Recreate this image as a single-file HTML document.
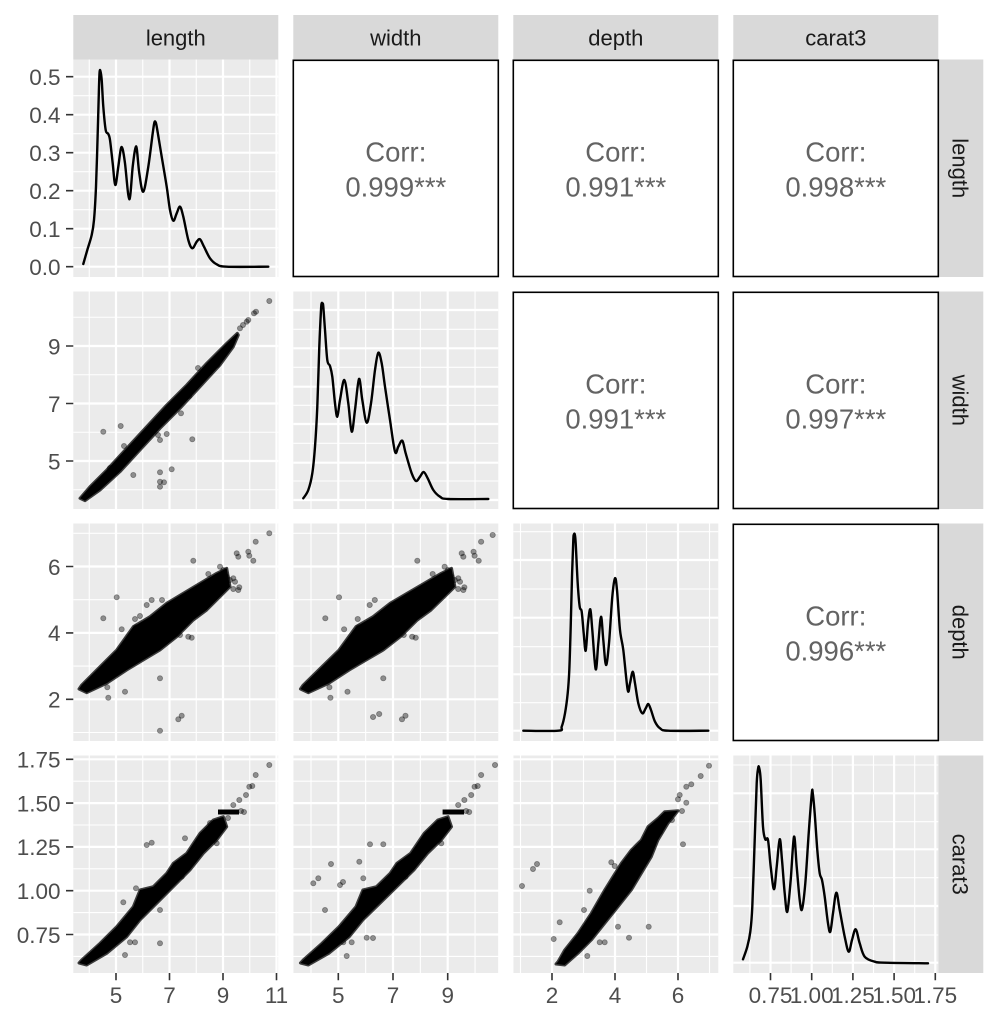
<!DOCTYPE html>
<html><head><meta charset="utf-8"><style>
html,body{margin:0;padding:0;background:#fff;}
svg{display:block;font-family:"Liberation Sans",Arial,sans-serif;}
</style></head><body>
<svg id="main" width="998" height="1023" viewBox="0 0 998 1023" xmlns="http://www.w3.org/2000/svg">
<defs>
<clipPath id="c11"><rect x="73.3" y="59.5" width="205" height="217.5"/></clipPath>
<clipPath id="c21"><rect x="73.3" y="291.5" width="205" height="217.5"/></clipPath>
<clipPath id="c22"><rect x="293.3" y="291.5" width="205" height="217.5"/></clipPath>
<clipPath id="c31"><rect x="73.3" y="523.5" width="205" height="217.5"/></clipPath>
<clipPath id="c32"><rect x="293.3" y="523.5" width="205" height="217.5"/></clipPath>
<clipPath id="c33"><rect x="513.3" y="523.5" width="205" height="217.5"/></clipPath>
<clipPath id="c41"><rect x="73.3" y="755.5" width="205" height="217.5"/></clipPath>
<clipPath id="c42"><rect x="293.3" y="755.5" width="205" height="217.5"/></clipPath>
<clipPath id="c43"><rect x="513.3" y="755.5" width="205" height="217.5"/></clipPath>
<clipPath id="c44"><rect x="733.3" y="755.5" width="205" height="217.5"/></clipPath>
</defs>
<rect width="998" height="1023" fill="#fff"/>

<!-- strips -->
<g fill="#D9D9D9">
<rect x="73.3" y="15" width="205" height="44.5"/>
<rect x="293.3" y="15" width="205" height="44.5"/>
<rect x="513.3" y="15" width="205" height="44.5"/>
<rect x="733.3" y="15" width="205" height="44.5"/>
<rect x="938.3" y="59.5" width="45" height="217.5"/>
<rect x="938.3" y="291.5" width="45" height="217.5"/>
<rect x="938.3" y="523.5" width="45" height="217.5"/>
<rect x="938.3" y="755.5" width="45" height="217.5"/>
</g>
<g font-size="22" fill="#1A1A1A" text-anchor="middle">
<text x="175.8" y="45.5">length</text>
<text x="395.8" y="45.5">width</text>
<text x="615.8" y="45.5">depth</text>
<text x="835.8" y="45.5">carat3</text>
<text transform="translate(952.5,168.25) rotate(90)">length</text>
<text transform="translate(952.5,400.25) rotate(90)">width</text>
<text transform="translate(952.5,632.25) rotate(90)">depth</text>
<text transform="translate(952.5,864.25) rotate(90)">carat3</text>
</g>

<!-- panel backgrounds -->
<g fill="#EBEBEB">
<rect x="73.3" y="59.5" width="205" height="217.5"/>
<rect x="73.3" y="291.5" width="205" height="217.5"/>
<rect x="293.3" y="291.5" width="205" height="217.5"/>
<rect x="73.3" y="523.5" width="205" height="217.5"/>
<rect x="293.3" y="523.5" width="205" height="217.5"/>
<rect x="513.3" y="523.5" width="205" height="217.5"/>
<rect x="73.3" y="755.5" width="205" height="217.5"/>
<rect x="293.3" y="755.5" width="205" height="217.5"/>
<rect x="513.3" y="755.5" width="205" height="217.5"/>
<rect x="733.3" y="755.5" width="205" height="217.5"/>
</g>

<!-- correlation panels -->
<g fill="#fff" stroke="#000" stroke-width="1.6">
<rect x="293.3" y="60.3" width="205" height="216.2"/>
<rect x="513.3" y="60.3" width="205" height="216.2"/>
<rect x="733.3" y="60.3" width="205" height="216.2"/>
<rect x="513.3" y="292.3" width="205" height="216.2"/>
<rect x="733.3" y="292.3" width="205" height="216.2"/>
<rect x="733.3" y="524.3" width="205" height="216.2"/>
</g>
<g font-size="27.5" fill="#636363" text-anchor="middle">
<text x="395.8" y="161.7">Corr:</text><text x="395.8" y="196.7">0.999***</text>
<text x="615.8" y="161.7">Corr:</text><text x="615.8" y="196.7">0.991***</text>
<text x="835.8" y="161.7">Corr:</text><text x="835.8" y="196.7">0.998***</text>
<text x="615.8" y="393.7">Corr:</text><text x="615.8" y="428.7">0.991***</text>
<text x="835.8" y="393.7">Corr:</text><text x="835.8" y="428.7">0.997***</text>
<text x="835.8" y="625.7">Corr:</text><text x="835.8" y="660.7">0.996***</text>
</g>

<!-- GRID LINES -->
<g stroke="#fff" fill="none">
<g stroke-width="1.1">
<path d="M89.25 59.5V277M142.75 59.5V277M196.25 59.5V277M249.75 59.5V277"/>
<path d="M89.25 291.5V509M142.75 291.5V509M196.25 291.5V509M249.75 291.5V509"/>
<path d="M89.25 523.5V741M142.75 523.5V741M196.25 523.5V741M249.75 523.5V741"/>
<path d="M89.25 755.5V973M142.75 755.5V973M196.25 755.5V973M249.75 755.5V973"/>
<path d="M311 291.5V509M365.65 291.5V509M420.35 291.5V509M475.05 291.5V509"/>
<path d="M311 523.5V741M365.65 523.5V741M420.35 523.5V741M475.05 523.5V741"/>
<path d="M311 755.5V973M365.65 755.5V973M420.35 755.5V973M475.05 755.5V973"/>
<path d="M520.5 523.5V741M583.5 523.5V741M646.5 523.5V741M709.5 523.5V741"/>
<path d="M520.5 755.5V973M583.5 755.5V973M646.5 755.5V973M709.5 755.5V973"/>
<path d="M749.9 755.5V973M791.1 755.5V973M832.3 755.5V973M873.5 755.5V973M914.7 755.5V973"/>
<path d="M73.3 247.7H278.3M73.3 209.7H278.3M73.3 171.7H278.3M73.3 133.7H278.3M73.3 95.7H278.3"/>
<path d="M73.3 489.75H278.3M73.3 432.25H278.3M73.3 374.75H278.3M73.3 317.25H278.3"/>
<path d="M293.3 481H498.3M293.3 443.3H498.3M293.3 405.3H498.3M293.3 367.3H498.3M293.3 329.3H498.3"/>
<path d="M73.3 732.5H498.3M73.3 666.1H498.3M73.3 599.7H498.3M73.3 533.3H498.3"/>
<path d="M513.3 702.7H718.3M513.3 646.7H718.3M513.3 589H718.3M513.3 531.7H718.3"/>
<path d="M73.3 956.4H718.3M73.3 912.6H718.3M73.3 868.8H718.3M73.3 825H718.3M73.3 781.2H718.3"/>
<path d="M733.3 935H938.3M733.3 877.7H938.3M733.3 821.7H938.3M733.3 765H938.3"/>
</g>
<g stroke-width="2.2">
<path d="M116 59.5V277M169.5 59.5V277M223 59.5V277M276.5 59.5V277"/>
<path d="M116 291.5V509M169.5 291.5V509M223 291.5V509M276.5 291.5V509"/>
<path d="M116 523.5V741M169.5 523.5V741M223 523.5V741M276.5 523.5V741"/>
<path d="M116 755.5V973M169.5 755.5V973M223 755.5V973M276.5 755.5V973"/>
<path d="M338.3 291.5V509M393 291.5V509M447.7 291.5V509"/>
<path d="M338.3 523.5V741M393 523.5V741M447.7 523.5V741"/>
<path d="M338.3 755.5V973M393 755.5V973M447.7 755.5V973"/>
<path d="M552 523.5V741M615 523.5V741M678 523.5V741"/>
<path d="M552 755.5V973M615 755.5V973M678 755.5V973"/>
<path d="M770.5 755.5V973M811.7 755.5V973M852.9 755.5V973M894.1 755.5V973M935.3 755.5V973"/>
<path d="M73.3 266.7H278.3M73.3 228.7H278.3M73.3 190.7H278.3M73.3 152.7H278.3M73.3 114.7H278.3M73.3 76.7H278.3"/>
<path d="M73.3 461H278.3M73.3 403.5H278.3M73.3 346H278.3"/>
<path d="M293.3 500H498.3M293.3 462.7H498.3M293.3 424H498.3M293.3 386.7H498.3M293.3 348.3H498.3M293.3 310H498.3"/>
<path d="M73.3 699.3H498.3M73.3 632.9H498.3M73.3 566.5H498.3"/>
<path d="M513.3 730.7H718.3M513.3 674.3H718.3M513.3 617.7H718.3M513.3 560H718.3"/>
<path d="M73.3 934.5H718.3M73.3 890.7H718.3M73.3 846.9H718.3M73.3 803.1H718.3M73.3 759.3H718.3"/>
<path d="M733.3 962.7H938.3M733.3 906H938.3M733.3 849.3H938.3M733.3 793.3H938.3"/>
</g>
</g>
<g fill="#fff">
<rect x="278.3" y="523.5" width="15" height="217.5"/>
<rect x="278.3" y="755.5" width="15" height="217.5"/>
<rect x="498.3" y="755.5" width="15" height="217.5"/>
</g>

<!-- DENSITIES -->
<g fill="none" stroke="#000" stroke-width="2.4" stroke-linejoin="round" stroke-linecap="round">
<polyline class="dens" clip-path="url(#c11)" points="83.3,264 87.3,250 91.7,235 94,220 96,186.7 97.7,133.3 99,86.7 99.6,72 100.4,71 101.7,80 103.3,106.7 105.7,130 108.3,134 110,140 112.7,163.3 115.3,185 118.3,166.7 120.8,149 122.6,149 125,163.3 129.3,199.3 132.7,166.7 135.2,149 136.8,149 139.3,173.3 143.3,191.7 148.3,166.7 152.7,133.3 154.4,122.5 155.8,122.5 157.3,130 161.7,156.7 166.7,186.7 170,210 173.3,220.7 176.7,213.3 180,206.7 183.3,216.7 188.3,240 192.3,248.3 196.7,241.7 200,239.3 204,246.7 210,258.3 216.7,264.3 226.7,266.7 268.3,266.7"/>
<polyline class="dens" clip-path="url(#c22)" points="303.3,498.3 308.3,490 312.3,473.3 315,446.7 317.3,406.7 319.3,346.7 321,310 321.6,303.5 322.6,303.5 323.3,306.7 325,330 327.3,360 330,366 332.3,376.7 335,403.3 337.3,416.7 340,400 344.3,380 348.3,403.3 351.7,431.7 355,410 359,379 362.3,400 366.7,422.7 371,403.3 375,370 378.3,352.7 381.7,363.3 385,386.7 390,420 395,451.7 398.3,446.7 402.3,440.7 405.7,453.3 411.7,473.3 416,481 420,476.7 423.7,472 427.7,478.3 433.3,490 440,496.7 448.3,499 488.3,499"/>
<polyline class="dens" clip-path="url(#c33)" points="523.3,730.7 558.3,730.7 561.7,726.7 565,713.3 567.7,693.3 569.3,670 570.7,626.7 572,576.7 573.3,540 573.9,534.5 574.8,534.5 575.7,543.3 577.7,583.3 579.7,606.7 581.7,611.7 583.7,633.3 585.7,650.7 588,623.3 590.3,609.3 592.3,630 595.7,669.3 598.3,643.3 601,616.7 603.3,640 606,665 609,643.3 612.3,596.7 615,578.3 617,590 620,630 623.3,650 627.7,690 630,683.3 632.7,671.7 635,683.3 638.3,703.3 642.3,713.3 645.7,708.3 648.3,704 651,710 655,721.7 660,728.3 668.3,730.7 708.3,730.7"/>
<polyline class="dens" clip-path="url(#c44)" points="743,959.3 747.3,946.7 750.3,931.7 752.3,906.7 754.7,840 756.7,783.3 758.2,768 759.2,768 760.7,780 763,826.7 765.3,839.3 768,840 770.7,866.7 774,889.3 776.7,866.7 779.7,839.3 782,860 784.7,893.3 787.3,911.7 790.7,880 794,836.7 796.7,866.7 799.7,900 802,909.3 805.3,883.3 808.7,833.3 811.8,793.5 812.8,793.5 814.7,813.3 817.3,850 819.7,873.3 822,880 824.7,896.7 828,923.3 830.3,931.7 833,913.3 836.3,892.7 839.7,910 844.7,936.7 848.7,951.7 852,940 855.7,929.3 859.7,943.3 864.7,956.7 874.7,961.7 884.7,962.7 928,963.3"/>
</g>

<!-- SCATTER row2 col1 -->
<g clip-path="url(#c21)">
<polygon fill="#000" stroke="rgba(0,0,0,0.75)" stroke-width="3" stroke-linejoin="round" points="80,498.3 90,486.7 106.7,470 126.7,448.3 146.7,426.7 166.7,405 186.7,385 206.7,363.3 226.7,343.3 237.3,333.3 238.3,335 233.3,346.7 220,365 200,386.7 180,408.3 160,428.3 140,450 120,471.7 100,490 85,500.7"/>
<g fill="#000" fill-opacity="0.4" stroke="#000" stroke-opacity="0.35" stroke-width="0.8">
<circle cx="103.3" cy="431.7" r="2.6"/><circle cx="120.7" cy="426" r="2.6"/><circle cx="133.3" cy="475" r="2.6"/>
<circle cx="160" cy="472.3" r="2.6"/><circle cx="160" cy="481.7" r="2.6"/><circle cx="164" cy="482.3" r="2.6"/>
<circle cx="160" cy="486.7" r="2.6"/><circle cx="171.7" cy="469.3" r="2.6"/><circle cx="192.3" cy="439.3" r="2.6"/>
<circle cx="181" cy="413.3" r="2.6"/><circle cx="189.3" cy="396" r="2.6"/><circle cx="217.3" cy="365" r="2.6"/>
<circle cx="158" cy="435" r="2.6"/><circle cx="166.7" cy="434" r="2.6"/><circle cx="160" cy="440" r="2.6"/>
<circle cx="248.3" cy="320" r="2.6"/><circle cx="246.7" cy="321.7" r="2.6"/><circle cx="256" cy="311.7" r="2.6"/>
<circle cx="254" cy="313.3" r="2.6"/><circle cx="269.3" cy="301" r="2.6"/><circle cx="240" cy="328.3" r="2.6"/>
<circle cx="243" cy="325" r="2.6"/><circle cx="150" cy="432" r="2.6"/><circle cx="110" cy="468" r="2.6"/>
<circle cx="124" cy="446" r="2.6"/><circle cx="198" cy="368" r="2.6"/><circle cx="210" cy="372" r="2.6"/>
</g>
</g>

<!-- SCATTER row3 col1 & col2 -->
<g clip-path="url(#c31)">
<polygon fill="#000" stroke="rgba(0,0,0,0.75)" stroke-width="3" stroke-linejoin="round" points="79,689 81.7,685 100,666.7 116.7,650 133.3,626.7 150,616.7 166.7,603.3 183.3,593.3 200,583.3 216.7,573.3 226.7,568.3 230,586.7 220,596.7 206.7,610 193.3,620 176.7,636.7 160,650 143.3,660 126.7,670 106.7,683.3 86.7,692.7"/>
<g fill="#000" fill-opacity="0.4" stroke="#000" stroke-opacity="0.35" stroke-width="0.8">
<circle cx="103.3" cy="618.3" r="2.6"/><circle cx="116.7" cy="597.3" r="2.6"/><circle cx="135" cy="619" r="2.6"/>
<circle cx="146.7" cy="605" r="2.6"/><circle cx="151.7" cy="600" r="2.6"/><circle cx="121.7" cy="629.3" r="2.6"/>
<circle cx="136" cy="627.3" r="2.6"/><circle cx="160" cy="678.3" r="2.6"/><circle cx="125" cy="691.7" r="2.6"/>
<circle cx="108.3" cy="697.7" r="2.6"/><circle cx="107.3" cy="687.3" r="2.6"/><circle cx="178.3" cy="719.3" r="2.6"/>
<circle cx="181.7" cy="715.7" r="2.6"/><circle cx="160" cy="730.7" r="2.6"/><circle cx="193.3" cy="560.7" r="2.6"/>
<circle cx="180" cy="635" r="2.6"/><circle cx="188.3" cy="636.7" r="2.6"/><circle cx="191.7" cy="637.7" r="2.6"/>
<circle cx="236.7" cy="553.3" r="2.6"/><circle cx="238.3" cy="556.7" r="2.6"/><circle cx="248.3" cy="551.7" r="2.6"/>
<circle cx="249.3" cy="555.7" r="2.6"/><circle cx="253.3" cy="560.7" r="2.6"/><circle cx="255.7" cy="541.7" r="2.6"/>
<circle cx="269.3" cy="533.3" r="2.6"/><circle cx="233.3" cy="589" r="2.6"/><circle cx="238.3" cy="590" r="2.6"/>
<circle cx="208.3" cy="574" r="2.6"/><circle cx="220" cy="566.7" r="2.6"/><circle cx="223.3" cy="570" r="2.6"/>
<circle cx="226.7" cy="576.7" r="2.6"/><circle cx="230" cy="580" r="2.6"/><circle cx="233.3" cy="578.3" r="2.6"/>
<circle cx="235" cy="581.7" r="2.6"/><circle cx="239.3" cy="587.3" r="2.6"/><circle cx="216.7" cy="576.7" r="2.6"/>
<circle cx="213.3" cy="580" r="2.6"/><circle cx="140" cy="616" r="2.6"/><circle cx="162" cy="600" r="2.6"/>
</g>
</g>
<g clip-path="url(#c32)">
<g transform="matrix(1.0224 0 0 1 219.7 0)">
<polygon fill="#000" stroke="rgba(0,0,0,0.75)" stroke-width="3" stroke-linejoin="round" points="79,689 81.7,685 100,666.7 116.7,650 133.3,626.7 150,616.7 166.7,603.3 183.3,593.3 200,583.3 216.7,573.3 226.7,568.3 230,586.7 220,596.7 206.7,610 193.3,620 176.7,636.7 160,650 143.3,660 126.7,670 106.7,683.3 86.7,692.7"/>
<g fill="#000" fill-opacity="0.4" stroke="#000" stroke-opacity="0.35" stroke-width="0.8">
<circle cx="103.3" cy="618.3" r="2.6"/><circle cx="116.7" cy="597.3" r="2.6"/><circle cx="135" cy="619" r="2.6"/>
<circle cx="146.7" cy="605" r="2.6"/><circle cx="151.7" cy="600" r="2.6"/><circle cx="121.7" cy="629.3" r="2.6"/>
<circle cx="136" cy="627.3" r="2.6"/><circle cx="160" cy="678.3" r="2.6"/><circle cx="125" cy="691.7" r="2.6"/>
<circle cx="108.3" cy="697.7" r="2.6"/><circle cx="107.3" cy="687.3" r="2.6"/><circle cx="178.3" cy="719.3" r="2.6"/>
<circle cx="181.7" cy="715.7" r="2.6"/><circle cx="193.3" cy="560.7" r="2.6"/>
<circle cx="180" cy="635" r="2.6"/><circle cx="188.3" cy="636.7" r="2.6"/><circle cx="191.7" cy="637.7" r="2.6"/>
<circle cx="236.7" cy="553.3" r="2.6"/><circle cx="238.3" cy="556.7" r="2.6"/><circle cx="248.3" cy="551.7" r="2.6"/>
<circle cx="249.3" cy="555.7" r="2.6"/><circle cx="253.3" cy="560.7" r="2.6"/><circle cx="255.7" cy="541.7" r="2.6"/>
<circle cx="267" cy="535" r="2.6"/><circle cx="233.3" cy="589" r="2.6"/><circle cx="238.3" cy="590" r="2.6"/>
<circle cx="208.3" cy="574" r="2.6"/><circle cx="220" cy="566.7" r="2.6"/><circle cx="223.3" cy="570" r="2.6"/>
<circle cx="226.7" cy="576.7" r="2.6"/><circle cx="230" cy="580" r="2.6"/><circle cx="233.3" cy="578.3" r="2.6"/>
<circle cx="235" cy="581.7" r="2.6"/><circle cx="239.3" cy="587.3" r="2.6"/><circle cx="216.7" cy="576.7" r="2.6"/>
<circle cx="213.3" cy="580" r="2.6"/><circle cx="150" cy="717" r="2.6"/><circle cx="156" cy="714" r="2.6"/>
</g>
</g>
</g>

<!-- SCATTER row4 col1 & col2 -->
<g clip-path="url(#c41)">
<polygon fill="#000" stroke="rgba(0,0,0,0.75)" stroke-width="3" stroke-linejoin="round" points="79,963 81.7,960 100,943.3 116.7,926.7 133.3,906.7 140,890 153.3,886.7 166.7,873.3 173.3,863.3 186.7,853.3 200,833.3 213.3,820 223.3,816.7 226.7,826.7 216.7,840 203.3,853.3 190,870 173.3,886.7 156.7,903.3 140,920 126.7,936.7 106.7,953.3 86.7,965"/>
<rect x="218" y="809.5" width="21" height="5" fill="#000"/>
<g fill="#000" fill-opacity="0.4" stroke="#000" stroke-opacity="0.35" stroke-width="0.8">
<circle cx="146.7" cy="845" r="2.6"/><circle cx="151.7" cy="842.7" r="2.6"/><circle cx="125" cy="955" r="2.6"/>
<circle cx="130" cy="942.3" r="2.6"/><circle cx="135" cy="942.3" r="2.6"/><circle cx="160" cy="943.3" r="2.6"/>
<circle cx="160" cy="910" r="2.6"/><circle cx="123.3" cy="902.3" r="2.6"/><circle cx="136" cy="888.3" r="2.6"/>
<circle cx="181.7" cy="876.7" r="2.6"/><circle cx="185" cy="838.3" r="2.6"/><circle cx="216.7" cy="843.3" r="2.6"/>
<circle cx="233.3" cy="805" r="2.6"/><circle cx="239.3" cy="800" r="2.6"/><circle cx="246" cy="795" r="2.6"/>
<circle cx="249.3" cy="786.7" r="2.6"/><circle cx="252.3" cy="786" r="2.6"/><circle cx="255.7" cy="775" r="2.6"/>
<circle cx="269.3" cy="765" r="2.6"/><circle cx="241" cy="811" r="2.6"/><circle cx="244" cy="812" r="2.6"/>
<circle cx="210" cy="823" r="2.6"/><circle cx="228" cy="818" r="2.6"/>
</g>
</g>
<g clip-path="url(#c42)">
<g transform="matrix(1.0224 0 0 1 219.7 0)">
<polygon fill="#000" stroke="rgba(0,0,0,0.75)" stroke-width="3" stroke-linejoin="round" points="79,963 81.7,960 100,943.3 116.7,926.7 133.3,906.7 140,890 153.3,886.7 166.7,873.3 173.3,863.3 186.7,853.3 200,833.3 213.3,820 223.3,816.7 226.7,826.7 216.7,840 203.3,853.3 190,870 173.3,886.7 156.7,903.3 140,920 126.7,936.7 106.7,953.3 86.7,965"/>
<rect x="218" y="809.5" width="21" height="5" fill="#000"/>
<g fill="#000" fill-opacity="0.4" stroke="#000" stroke-opacity="0.35" stroke-width="0.8">
<circle cx="181.7" cy="876.7" r="2.6"/><circle cx="216.7" cy="843.3" r="2.6"/>
<circle cx="233.3" cy="805" r="2.6"/><circle cx="239.3" cy="800" r="2.6"/><circle cx="246" cy="795" r="2.6"/>
<circle cx="249.3" cy="786.7" r="2.6"/><circle cx="252.3" cy="786" r="2.6"/><circle cx="255.7" cy="775" r="2.6"/>
<circle cx="269.3" cy="765" r="2.6"/><circle cx="241" cy="811" r="2.6"/><circle cx="244" cy="812" r="2.6"/>
</g>
</g>
<g fill="#000" fill-opacity="0.4" stroke="#000" stroke-opacity="0.35" stroke-width="0.8">
<circle cx="313.3" cy="883.3" r="2.6"/><circle cx="318.3" cy="878.3" r="2.6"/><circle cx="325" cy="910" r="2.6"/>
<circle cx="331" cy="864" r="2.6"/><circle cx="359.3" cy="861.7" r="2.6"/><circle cx="363.3" cy="878.3" r="2.6"/>
<circle cx="366.7" cy="937.7" r="2.6"/><circle cx="346.7" cy="956" r="2.6"/>
<circle cx="343.3" cy="942.3" r="2.6"/><circle cx="351.7" cy="942.3" r="2.6"/><circle cx="370" cy="844.3" r="2.6"/>
<circle cx="383.3" cy="844.3" r="2.6"/><circle cx="340" cy="885" r="2.6"/><circle cx="343" cy="882" r="2.6"/>
<circle cx="373" cy="938" r="2.6"/>
</g>
</g>

<!-- SCATTER row4 col3 -->
<g clip-path="url(#c43)">
<polygon fill="#000" stroke="rgba(0,0,0,0.75)" stroke-width="3" stroke-linejoin="round" points="556,964 558,961.7 564.7,950 578,933.3 591.3,913.3 604.7,890 613,876.7 621.3,863.3 631.3,850 641.3,840 648,826.7 658,818.3 664.7,811.7 678,810.7 674.7,815 668,823.3 658,840 651.3,856.7 641.3,873.3 631.3,890 618,906.7 604.7,923.3 591.3,940 578,953.3 564.7,965"/>
<g fill="#000" fill-opacity="0.4" stroke="#000" stroke-opacity="0.35" stroke-width="0.8">
<circle cx="522" cy="886" r="2.6"/><circle cx="533" cy="869" r="2.6"/><circle cx="537" cy="864" r="2.6"/>
<circle cx="553.7" cy="939" r="2.6"/><circle cx="559.7" cy="922.3" r="2.6"/><circle cx="589.7" cy="890.7" r="2.6"/>
<circle cx="584" cy="910" r="2.6"/><circle cx="587.3" cy="956" r="2.6"/><circle cx="599.7" cy="942.3" r="2.6"/>
<circle cx="604.7" cy="942.3" r="2.6"/><circle cx="618" cy="926.7" r="2.6"/><circle cx="629" cy="937.7" r="2.6"/>
<circle cx="648.7" cy="926.7" r="2.6"/><circle cx="611.3" cy="862.3" r="2.6"/><circle cx="614.7" cy="866" r="2.6"/>
<circle cx="683" cy="844.3" r="2.6"/><circle cx="678" cy="799.3" r="2.6"/><circle cx="686.3" cy="802.7" r="2.6"/>
<circle cx="679.7" cy="795" r="2.6"/><circle cx="686.3" cy="786.7" r="2.6"/><circle cx="691.3" cy="784.3" r="2.6"/>
<circle cx="700.7" cy="776" r="2.6"/><circle cx="709" cy="765.7" r="2.6"/><circle cx="682" cy="811" r="2.6"/>
<circle cx="672" cy="820" r="2.6"/><circle cx="660" cy="832" r="2.6"/>
</g>
</g>

<!-- AXIS TICKS -->
<g stroke="#333" stroke-width="1.6">
<path d="M66 266.7H73.3M66 228.7H73.3M66 190.7H73.3M66 152.7H73.3M66 114.7H73.3M66 76.7H73.3"/>
<path d="M66 461H73.3M66 403.5H73.3M66 346H73.3"/>
<path d="M66 699.3H73.3M66 632.9H73.3M66 566.5H73.3"/>
<path d="M66 934.5H73.3M66 890.7H73.3M66 846.9H73.3M66 803.1H73.3M66 759.3H73.3"/>
<path d="M116 973V980.3M169.5 973V980.3M223 973V980.3M276.5 973V980.3"/>
<path d="M338.3 973V980.3M393 973V980.3M447.7 973V980.3"/>
<path d="M552 973V980.3M615 973V980.3M678 973V980.3"/>
<path d="M770.5 973V980.3M811.7 973V980.3M852.9 973V980.3M894.1 973V980.3M935.3 973V980.3"/>
</g>
<g font-size="22.5" fill="#4D4D4D" text-anchor="end">
<text x="60.5" y="275">0.0</text><text x="60.5" y="237">0.1</text><text x="60.5" y="199">0.2</text>
<text x="60.5" y="161">0.3</text><text x="60.5" y="123">0.4</text><text x="60.5" y="85">0.5</text>
<text x="60.5" y="469.3">5</text><text x="60.5" y="411.8">7</text><text x="60.5" y="354.3">9</text>
<text x="60.5" y="707.6">2</text><text x="60.5" y="641.2">4</text><text x="60.5" y="574.8">6</text>
<text x="60.5" y="942.8">0.75</text><text x="60.5" y="899">1.00</text><text x="60.5" y="855.2">1.25</text>
<text x="60.5" y="811.4">1.50</text><text x="60.5" y="767.6">1.75</text>
</g>
<g font-size="22.5" fill="#4D4D4D" text-anchor="middle">
<text x="116" y="1003">5</text><text x="169.5" y="1003">7</text><text x="223" y="1003">9</text><text x="276.5" y="1003">11</text>
<text x="338.3" y="1003">5</text><text x="393" y="1003">7</text><text x="447.7" y="1003">9</text>
<text x="552" y="1003">2</text><text x="615" y="1003">4</text><text x="678" y="1003">6</text>
<text x="770.5" y="1003">0.75</text><text x="811.7" y="1003">1.00</text><text x="852.9" y="1003">1.25</text>
<text x="894.1" y="1003">1.50</text><text x="935.3" y="1003">1.75</text>
</g>
</svg>
<script>
(function(){
  try{
    var ns="http://www.w3.org/2000/svg";
    var pls=document.querySelectorAll("polyline.dens");
    for(var k=0;k<pls.length;k++){
      var pl=pls[k];
      var raw=pl.getAttribute("points").trim().split(/\s+/);
      var p=raw.map(function(s){var a=s.split(",");return [parseFloat(a[0]),parseFloat(a[1])];});
      var n=p.length;
      var d="M"+p[0][0]+","+p[0][1];
      for(var i=0;i<n-1;i++){
        var p0=p[i>0?i-1:i],p1=p[i],p2=p[i+1],p3=p[i+2<n?i+2:i+1];
        var c1x=p1[0]+(p2[0]-p0[0])/6,c1y=p1[1]+(p2[1]-p0[1])/6;
        var c2x=p2[0]-(p3[0]-p1[0])/6,c2y=p2[1]-(p3[1]-p1[1])/6;
        d+=" C"+c1x.toFixed(2)+","+c1y.toFixed(2)+" "+c2x.toFixed(2)+","+c2y.toFixed(2)+" "+p2[0]+","+p2[1];
      }
      var path=document.createElementNS(ns,"path");
      path.setAttribute("d",d);
      path.setAttribute("clip-path",pl.getAttribute("clip-path"));
      pl.parentNode.replaceChild(path,pl);
    }
  }catch(e){}
})();
</script>
</body></html>
